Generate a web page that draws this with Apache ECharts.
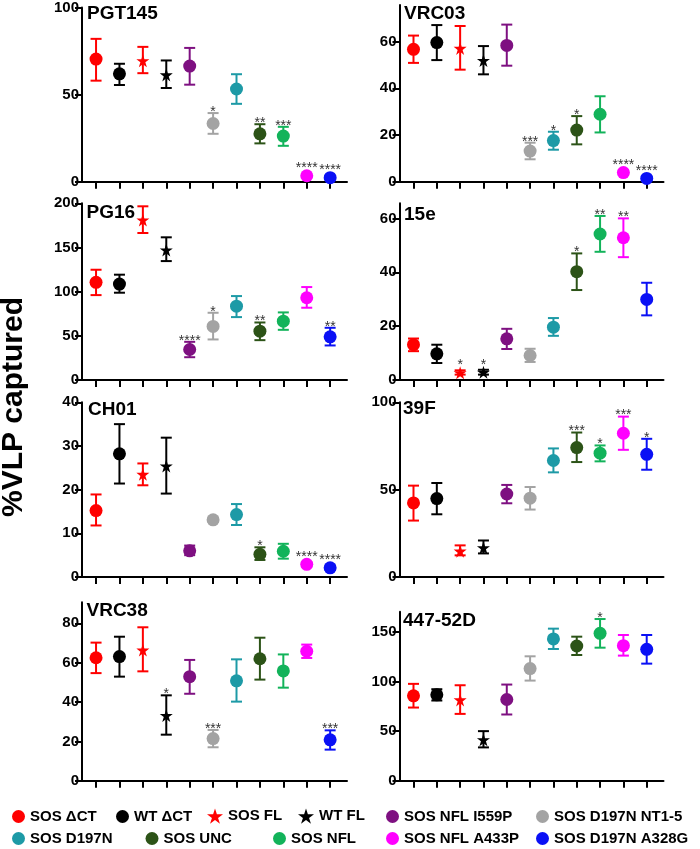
<!DOCTYPE html>
<html>
<head>
<meta charset="utf-8">
<script src="https://cdn.jsdelivr.net/npm/echarts@6/dist/echarts.min.js"></script>
<style>html,body{margin:0;padding:0;background:#fff}#c{width:700px;height:849px}</style>
</head>
<body>
<div id="c"></div>
<script>
// ---------------- DATA ----------------
const groups = ['SOS ΔCT','WT ΔCT','SOS FL','WT FL','SOS NFL I559P','SOS D197N NT1-5','SOS D197N','SOS UNC','SOS NFL','SOS NFL A433P','SOS D197N A328G'];
const panelNames = ['PGT145','VRC03','PG16','15e','CH01','39F','VRC38','447-52D'];

const pgt145Mean = [70.4, 61.9, 69.4, 61.3, 66.4, 33.4, 53.2, 27.5, 26.2, 3.4, 2.3];
const pgt145Lo   = [58, 55.5, 62.3, 53.8, 55.7, 27.5, 44.7, 22, 20.6, 2.4, 1.3];
const pgt145Hi   = [82, 67.7, 77.4, 69.6, 76.8, 39.4, 61.7, 33, 31.5, 4.4, 3.3];
const pgt145Sig  = ['','','','','','*','','**','***','****','****'];

const vrc03Mean = [56.7, 59.6, 57.1, 51.9, 58.4, 13.1, 17.6, 22.1, 28.9, 3.9, 1.4];
const vrc03Lo   = [50.9, 52.1, 48, 46, 49.7, 9.6, 13.7, 16, 21.1, 2.9, 0.6];
const vrc03Hi   = [62.6, 67.1, 66.7, 58.1, 67.3, 16.7, 21.4, 28.1, 36.6, 4.9, 2.2];
const vrc03Sig  = ['','','','','','***','*','*','','****','****'];

const pg16Mean = [110.5, 108.6, 181.1, 147.1, 34.5, 60.6, 83.6, 55.3, 66.6, 93.1, 48.9];
const pg16Lo   = [96.1, 98.8, 166.4, 134.6, 25.8, 45.9, 71.2, 45.1, 56.8, 81.8, 39.1];
const pg16Hi   = [124.8, 119.2, 196.6, 161.5, 43.2, 76.1, 95, 65.1, 76.5, 105.2, 59.1];
const pg16Sig  = ['','','','','****','*','','**','','','**'];

const e15Mean = [13.1, 9.7, 2.7, 2.9, 15.3, 9.1, 19.6, 40.2, 54.2, 52.8, 29.9];
const e15Lo   = [10.7, 6.3, 2.0, 2.0, 11.5, 6.7, 16.4, 33.4, 47.6, 45.6, 24];
const e15Hi   = [15.4, 13.1, 3.6, 3.8, 19, 11.6, 23, 47, 60.9, 60, 36.1];
const e15Sig  = ['','','*','*','','','','*','**','**',''];

const ch01Mean = [15.2, 28.2, 23.5, 25.4, 6.0, 13.1, 14.3, 5.2, 5.9, 2.9, 2.1];
const ch01Lo   = [11.8, 21.4, 21, 19.1, 5.0, 12.6, 11.9, 3.9, 4.2, 2.4, 1.6];
const ch01Hi   = [18.9, 35, 26, 31.9, 7.2, 13.6, 16.7, 6.8, 7.6, 3.4, 2.6];
const ch01Sig  = ['','','','','','','','*','','****','****'];

const f39Mean = [42.4, 44.9, 14.8, 16.7, 47.5, 45.1, 66.7, 74.1, 70.9, 82.3, 70.2];
const f39Lo   = [32.3, 35.9, 12.4, 13.5, 42.2, 38.6, 59.9, 65.8, 66.2, 72.8, 61.4];
const f39Hi   = [52.3, 53.8, 18.1, 20.9, 52.7, 51.5, 73.6, 82.7, 75.3, 91.8, 79.1];
const f39Sig  = ['','','','','','','','***','*','***','*'];

const vrc38Mean = [62.5, 63.1, 66.4, 33.1, 52.9, 21.4, 50.8, 62, 55.8, 65.8, 20.8];
const vrc38Lo   = [54.7, 52.9, 55.6, 23.4, 44.2, 17, 40.2, 51.4, 47.3, 62.4, 15.8];
const vrc38Hi   = [70.2, 73.2, 78, 43.4, 61.4, 25.8, 61.7, 72.7, 64.2, 69.2, 25.6];
const vrc38Sig  = ['','','','*','','***','','','','','***'];

const d447Mean = [85.6, 86.6, 81.5, 41.3, 81.9, 113.1, 143, 135.9, 148.7, 136.2, 132.5];
const d447Lo   = [73.8, 80.9, 67.4, 33.6, 66.8, 101, 132.9, 126.8, 134.2, 126.2, 118.1];
const d447Hi   = [97.7, 92.3, 96.3, 50, 97, 125.5, 153.4, 145.3, 163.1, 147, 147];
const d447Sig  = ['','','','','','','','','*','',''];

const pgt145Ticks = [0, 50, 100];
const vrc03Ticks  = [0, 20, 40, 60];
const pg16Ticks   = [0, 50, 100, 150, 200];
const e15Ticks    = [0, 20, 40, 60];
const ch01Ticks   = [0, 10, 20, 30, 40];
const f39Ticks    = [0, 50, 100];
const vrc38Ticks  = [0, 20, 40, 60, 80];
const d447Ticks   = [0, 50, 100, 150];

// ---------------- STYLE / LAYOUT ----------------
const colors = ['#ff0000','#000000','#ff0000','#000000','#7e1081','#a3a3a3','#1d9aa6','#2c5317','#12b35a','#ff00ff','#0a10f5'];
const STAR = 'path://M50,0 L61.2,34.5 L97.6,34.5 L68.2,55.9 L79.4,90.5 L50,69.1 L20.6,90.5 L31.8,55.9 L2.4,34.5 L38.8,34.5 Z';
const isStar = [false,false,true,true,false,false,false,false,false,false,false];
const FONT = 'Liberation Sans';

const panels = [
  {name: panelNames[0], mean: pgt145Mean, lo: pgt145Lo, hi: pgt145Hi, sig: pgt145Sig, ticks: pgt145Ticks, max: 100, left: 82, width: 265, top: 5, height: 176.7, tl: 87, tt: 4},
  {name: panelNames[1], mean: vrc03Mean, lo: vrc03Lo, hi: vrc03Hi, sig: vrc03Sig, ticks: vrc03Ticks, max: 75.7, left: 399.5, width: 264, top: 5, height: 176.7, tl: 404, tt: 4.5},
  {name: panelNames[2], mean: pg16Mean, lo: pg16Lo, hi: pg16Hi, sig: pg16Sig, ticks: pg16Ticks, max: 200, left: 82, width: 265, top: 203.3, height: 176.7, tl: 86.5, tt: 203},
  {name: panelNames[3], mean: e15Mean, lo: e15Lo, hi: e15Hi, sig: e15Sig, ticks: e15Ticks, max: 65.6, left: 399.5, width: 264, top: 203.3, height: 176.7, tl: 404, tt: 205},
  {name: panelNames[4], mean: ch01Mean, lo: ch01Lo, hi: ch01Hi, sig: ch01Sig, ticks: ch01Ticks, max: 40, left: 82, width: 265, top: 402.3, height: 174.7, tl: 88, tt: 400.5},
  {name: panelNames[5], mean: f39Mean, lo: f39Lo, hi: f39Hi, sig: f39Sig, ticks: f39Ticks, max: 100, left: 399.5, width: 264, top: 402.3, height: 174.7, tl: 403, tt: 399},
  {name: panelNames[6], mean: vrc38Mean, lo: vrc38Lo, hi: vrc38Hi, sig: vrc38Sig, ticks: vrc38Ticks, max: 90.7, left: 82, width: 265, top: 602.3, height: 178.4, tl: 86.5, tt: 601.5},
  {name: panelNames[7], mean: d447Mean, lo: d447Lo, hi: d447Hi, sig: d447Sig, ticks: d447Ticks, max: 170.5, left: 399.5, width: 264, top: 611.7, height: 169, tl: 403, tt: 611.5}
];

const grid = [], xAxis = [], yAxis = [], series = [], title = [];
const xTicks = groups.map((g, i) => i + 1);

panels.forEach((p, k) => {
  grid.push({left: p.left, top: p.top, width: p.width, height: p.height, containLabel: false});
  title.push({text: p.name, left: p.tl, top: p.tt, padding: 0,
    textStyle: {fontFamily: FONT, fontWeight: 'bold', fontSize: 19, color: '#000'}});
  xAxis.push({type: 'value', gridIndex: k, min: 0.4, max: 11.72,
    axisLine: {show: true, onZero: false, lineStyle: {color: '#000', width: 2}},
    axisTick: {show: true, length: 7, lineStyle: {color: '#000', width: 2}, customValues: xTicks},
    axisLabel: {show: false, customValues: xTicks},
    splitLine: {show: false}});
  yAxis.push({type: 'value', gridIndex: k, min: 0, max: p.max,
    axisLine: {show: true, onZero: false, lineStyle: {color: '#000', width: 2}},
    axisTick: {show: true, length: 7, lineStyle: {color: '#000', width: 2}, customValues: p.ticks},
    axisLabel: {show: true, margin: 3, color: '#000', fontFamily: FONT, fontWeight: 'bold', fontSize: 15, customValues: p.ticks},
    splitLine: {show: false}});

  const sig = p.sig;
  series.push({
    type: 'custom', xAxisIndex: k, yAxisIndex: k, z: 1, silent: true,
    data: groups.map((g, i) => [i + 1, p.lo[i], p.hi[i], p.mean[i]]),
    renderItem: function (params, api) {
      const x = api.value(0);
      const pLo = api.coord([x, api.value(1)]);
      const pHi = api.coord([x, api.value(2)]);
      const pM = api.coord([x, api.value(3)]);
      const c = colors[params.dataIndex];
      const hw = 5.5;
      const ls = {stroke: c, lineWidth: 2};
      const children = [
        {type: 'line', shape: {x1: pLo[0], y1: pLo[1], x2: pHi[0], y2: pHi[1]}, style: ls},
        {type: 'line', shape: {x1: pHi[0] - hw, y1: pHi[1], x2: pHi[0] + hw, y2: pHi[1]}, style: ls},
        {type: 'line', shape: {x1: pLo[0] - hw, y1: pLo[1], x2: pLo[0] + hw, y2: pLo[1]}, style: ls}
      ];
      const s = sig[params.dataIndex];
      if (s) {
        const yTop = Math.min(pHi[1], pM[1] - 6.5);
        children.push({type: 'text', style: {text: s, x: pHi[0], y: yTop + 6, align: 'center', verticalAlign: 'bottom',
          fill: '#333', font: '14px ' + FONT}});
      }
      return {type: 'group', children: children};
    }
  });

  groups.forEach((g, i) => {
    series.push({
      type: 'scatter', name: g, xAxisIndex: k, yAxisIndex: k, z: 3,
      symbol: isStar[i] ? STAR : 'circle',
      symbolSize: 13,
      itemStyle: {color: colors[i], opacity: 1},
      data: [[i + 1, p.mean[i]]]
    });
  });
});

const legendPos = [
  [12, 809], [116, 809], [207, 808.5], [298, 808.5], [386, 809], [536, 809],
  [12, 831], [145.5, 831], [273, 831], [386, 831], [536, 831]
];
const legendRich = {b: {fontFamily: FONT, fontWeight: 'bold', fontSize: 15, color: '#000', lineHeight: 15}};
const legend = groups.map((g, i) => ({
  data: [{name: g, icon: isStar[i] ? STAR : 'circle'}],
  left: legendPos[i][0], top: legendPos[i][1], padding: 0,
  itemWidth: isStar[i] ? 16 : 13, itemHeight: isStar[i] ? 16 : 13, itemGap: 0,
  selectedMode: false,
  formatter: '{b|{name}}',
  textStyle: {fontFamily: FONT, fontWeight: 'bold', fontSize: 15, color: '#000', rich: legendRich}
}));

const chart = echarts.init(document.getElementById('c'), null, {renderer: 'canvas'});
chart.setOption({
  animation: false,
  backgroundColor: '#fff',
  textStyle: {fontFamily: FONT},
  title: title,
  grid: grid,
  xAxis: xAxis,
  yAxis: yAxis,
  legend: legend,
  series: series,
  graphic: [{
    type: 'text', rotation: Math.PI / 2,
    x: 14, y: 407,
    style: {text: '%VLP captured', font: 'bold 30px ' + FONT, fill: '#000', align: 'center', verticalAlign: 'middle'}
  }]
});
</script>
</body>
</html>
